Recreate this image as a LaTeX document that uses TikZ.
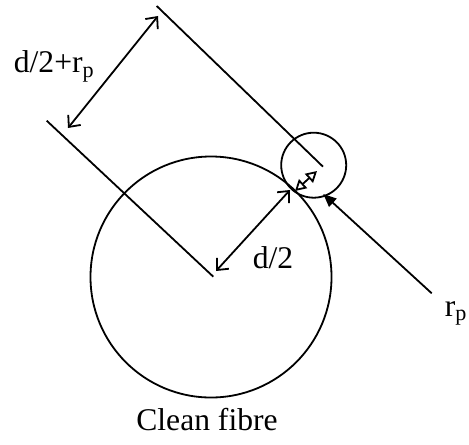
\documentclass[tikz,border=0pt]{standalone}
\usepackage{fontspec}
\setmainfont{Liberation Serif}
\usetikzlibrary{arrows.meta}

\begin{document}
\begin{tikzpicture}[
  x=0.5pt, y=-0.5pt,
  line width=0.9pt,
  fibre/.style={circle, draw, inner sep=0pt},
  dim/.style={{Straight Barb[length=4.5pt,width=8pt]}-{Straight Barb[length=4.5pt,width=8pt]}},
  small/.style={{Triangle[open,length=5.5pt,width=6pt]}-{Triangle[open,length=5.5pt,width=6pt]}},
  arr/.style={-{Triangle[length=6.5pt,width=5.5pt]}},
  lbl/.style={inner sep=0pt, anchor=base west},
  font=\fontsize{15.8}{18}\selectfont
]
\useasboundingbox (0,0) rectangle (469,444);
% fibre and particle
\node[fibre, minimum size=120.5pt] (fc) at (211,277) {};
\node[fibre, minimum size=32.5pt] (pc) at (313.7,165.2) {};
% reference lines
\coordinate (la) at (46.7,120.7);
\coordinate (lb) at (213.3,276.7);
\coordinate (ua) at (156.7,6);
\coordinate (ub) at (323,166.7);
\draw (la) -- (lb);
\draw (ua) -- (ub);
% dimensions
\coordinate (d1) at (158,16);
\coordinate (d2) at (68,128);
\draw[dim] (d1) -- (d2);
\coordinate (r1) at (216,271);
\coordinate (r2) at (290,190);
\draw[dim] (r1) -- (r2);
\coordinate (s1) at (295,191);
\coordinate (s2) at (317,171);
\draw[small] (s1) -- (s2);
\coordinate (p1) at (431.7,293.3);
\coordinate (p2) at (323.3,194);
\draw[arr] (p1) -- (p2);
% labels
\node[lbl] (l1) at (13,73) {d/2+r\textsubscript{p}};
\node[lbl] (l2) at (252,268) {d/2};
\node[lbl] (l3) at (444,316) {r\textsubscript{p}};
\node[inner sep=0pt, anchor=base] (l4) at (207,430) {Clean fibre};
\end{tikzpicture}
\end{document}
